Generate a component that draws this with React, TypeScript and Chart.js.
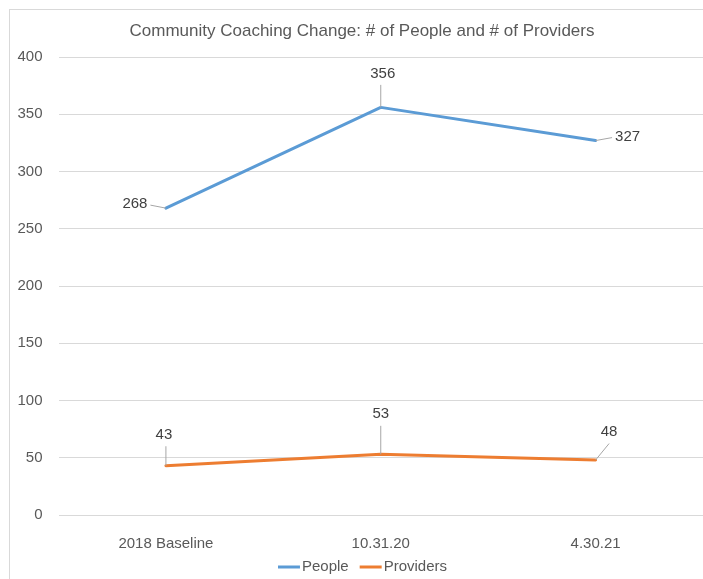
import React, { useEffect, useRef } from "react";
import { Chart, registerables } from "chart.js";

Chart.register(...registerables);

const TITLE = "Community Coaching Change: # of People and # of Providers";
const categories = ["2018 Baseline", "10.31.20", "4.30.21"];
const peopleValues = [268, 356, 327];
const providerValues = [43, 53, 48];
const seriesNames = ["People", "Providers"];
const seriesColors = ["#5B9BD5", "#ED7D31"];
// label placement offsets (px) relative to each point, per series
const labelOffsets = [
  [[-31, -4], [2, -34], [32, -4]],
  [[-2, -31], [0, -40], [13.5, -28]],
];

const FONT = "'Liberation Sans', Arial, sans-serif";
const TEXT_GRAY = "#595959";
const LABEL_GRAY = "#404040";
const GRID = "#d9d9d9";

const W = 693;
const H = 569;

const overlayPlugin = {
  id: "overlay",
  afterDatasetsDraw(chart: any) {
    const ctx = chart.ctx;
    ctx.save();
    // data labels with leader lines
    ctx.font = `15px ${FONT}`;
    chart.data.datasets.forEach((ds: any, di: number) => {
      const meta = chart.getDatasetMeta(di);
      meta.data.forEach((pt: any, i: number) => {
        const [dx, dy] = labelOffsets[di][i];
        const lx = pt.x + dx;
        const ly = pt.y + dy;
        const txt = String(ds.data[i]);
        const tw = ctx.measureText(txt).width;
        // leader
        let sx: number, sy: number;
        if (Math.abs(dx) > Math.abs(dy)) {
          sx = dx < 0 ? lx + tw / 2 + 3 : lx - tw / 2 - 3;
          sy = ly + 1;
        } else {
          sx = Math.abs(dx) > 5 ? lx : pt.x;
          sy = ly + 11.5;
        }
        ctx.strokeStyle = "#a6a6a6";
        ctx.lineWidth = 1;
        ctx.beginPath();
        ctx.moveTo(sx, sy);
        ctx.lineTo(pt.x, pt.y);
        ctx.stroke();
        ctx.fillStyle = LABEL_GRAY;
        ctx.textAlign = "center";
        ctx.textBaseline = "middle";
        ctx.fillText(txt, lx, ly);
      });
    });
    ctx.restore();
  },
  afterDraw(chart: any) {
    const ctx = chart.ctx;
    ctx.save();
    // title
    ctx.font = `17px ${FONT}`;
    ctx.fillStyle = TEXT_GRAY;
    ctx.textAlign = "center";
    ctx.textBaseline = "middle";
    ctx.fillText(TITLE, 352, 21);
    // legend
    ctx.font = `15px ${FONT}`;
    const lineW = 22;
    const gap = 2;
    const itemGap = 11;
    const items = chart.data.datasets.map((ds: any) => ({
      label: ds.label,
      color: ds.borderColor,
      w: lineW + gap + ctx.measureText(ds.label).width,
    }));
    const total =
      items.reduce((s: number, it: any) => s + it.w, 0) + itemGap * (items.length - 1);
    let x = 352.5 - total / 2;
    const y = 557;
    items.forEach((it: any) => {
      ctx.strokeStyle = it.color;
      ctx.lineWidth = 3;
      ctx.beginPath();
      ctx.moveTo(x, y);
      ctx.lineTo(x + lineW, y);
      ctx.stroke();
      ctx.fillStyle = TEXT_GRAY;
      ctx.textAlign = "left";
      ctx.textBaseline = "middle";
      ctx.fillText(it.label, x + lineW + gap, y);
      x += it.w + itemGap;
    });
    ctx.restore();
  },
};

export default function App() {
  const ref = useRef<HTMLCanvasElement>(null);

  useEffect(() => {
    document.body.style.overflow = "hidden";
    const canvas = ref.current;
    if (!canvas) return;
    const chart = new Chart(canvas, {
      type: "line",
      data: {
        labels: categories,
        datasets: [
          {
            label: seriesNames[0],
            data: peopleValues,
            borderColor: seriesColors[0],
            backgroundColor: seriesColors[0],
            borderWidth: 3,
            pointRadius: 0,
            pointHoverRadius: 0,
            tension: 0,
            borderCapStyle: "round",
            borderJoinStyle: "round",
          },
          {
            label: seriesNames[1],
            data: providerValues,
            borderColor: seriesColors[1],
            backgroundColor: seriesColors[1],
            borderWidth: 3,
            pointRadius: 0,
            pointHoverRadius: 0,
            tension: 0,
            borderCapStyle: "round",
            borderJoinStyle: "round",
          },
        ],
      },
      options: {
        responsive: false,
        animation: false,
        devicePixelRatio: 1,
        layout: { padding: { top: 47, left: 0, right: 0, bottom: 0 } },
        plugins: {
          legend: { display: false },
          title: { display: false },
          tooltip: { enabled: false },
        },
        scales: {
          x: {
            type: "category",
            offset: true,
            grid: { display: false },
            border: { display: false },
            ticks: {
              color: TEXT_GRAY,
              font: { family: FONT, size: 15 },
              padding: 12,
              maxRotation: 0,
            },
            afterFit(scale: any) {
              scale.height = 64;
            },
          },
          y: {
            min: 0,
            max: 400,
            border: { display: false },
            grid: { color: GRID, lineWidth: 1, drawTicks: false },
            ticks: {
              stepSize: 50,
              color: TEXT_GRAY,
              font: { family: FONT, size: 15 },
              padding: 16,
            },
            afterFit(scale: any) {
              scale.width = 48.5;
            },
          },
        },
      },
      plugins: [overlayPlugin],
    });
    return () => chart.destroy();
  }, []);

  return (
    <div
      style={{
        position: "absolute",
        left: 9,
        top: 9,
        width: W,
        height: H,
        borderLeft: `1px solid ${GRID}`,
        borderTop: `1px solid ${GRID}`,
        background: "#fff",
      }}
    >
      <canvas ref={ref} width={W} height={H} style={{ display: "block", width: W, height: H }} />
    </div>
  );
}
